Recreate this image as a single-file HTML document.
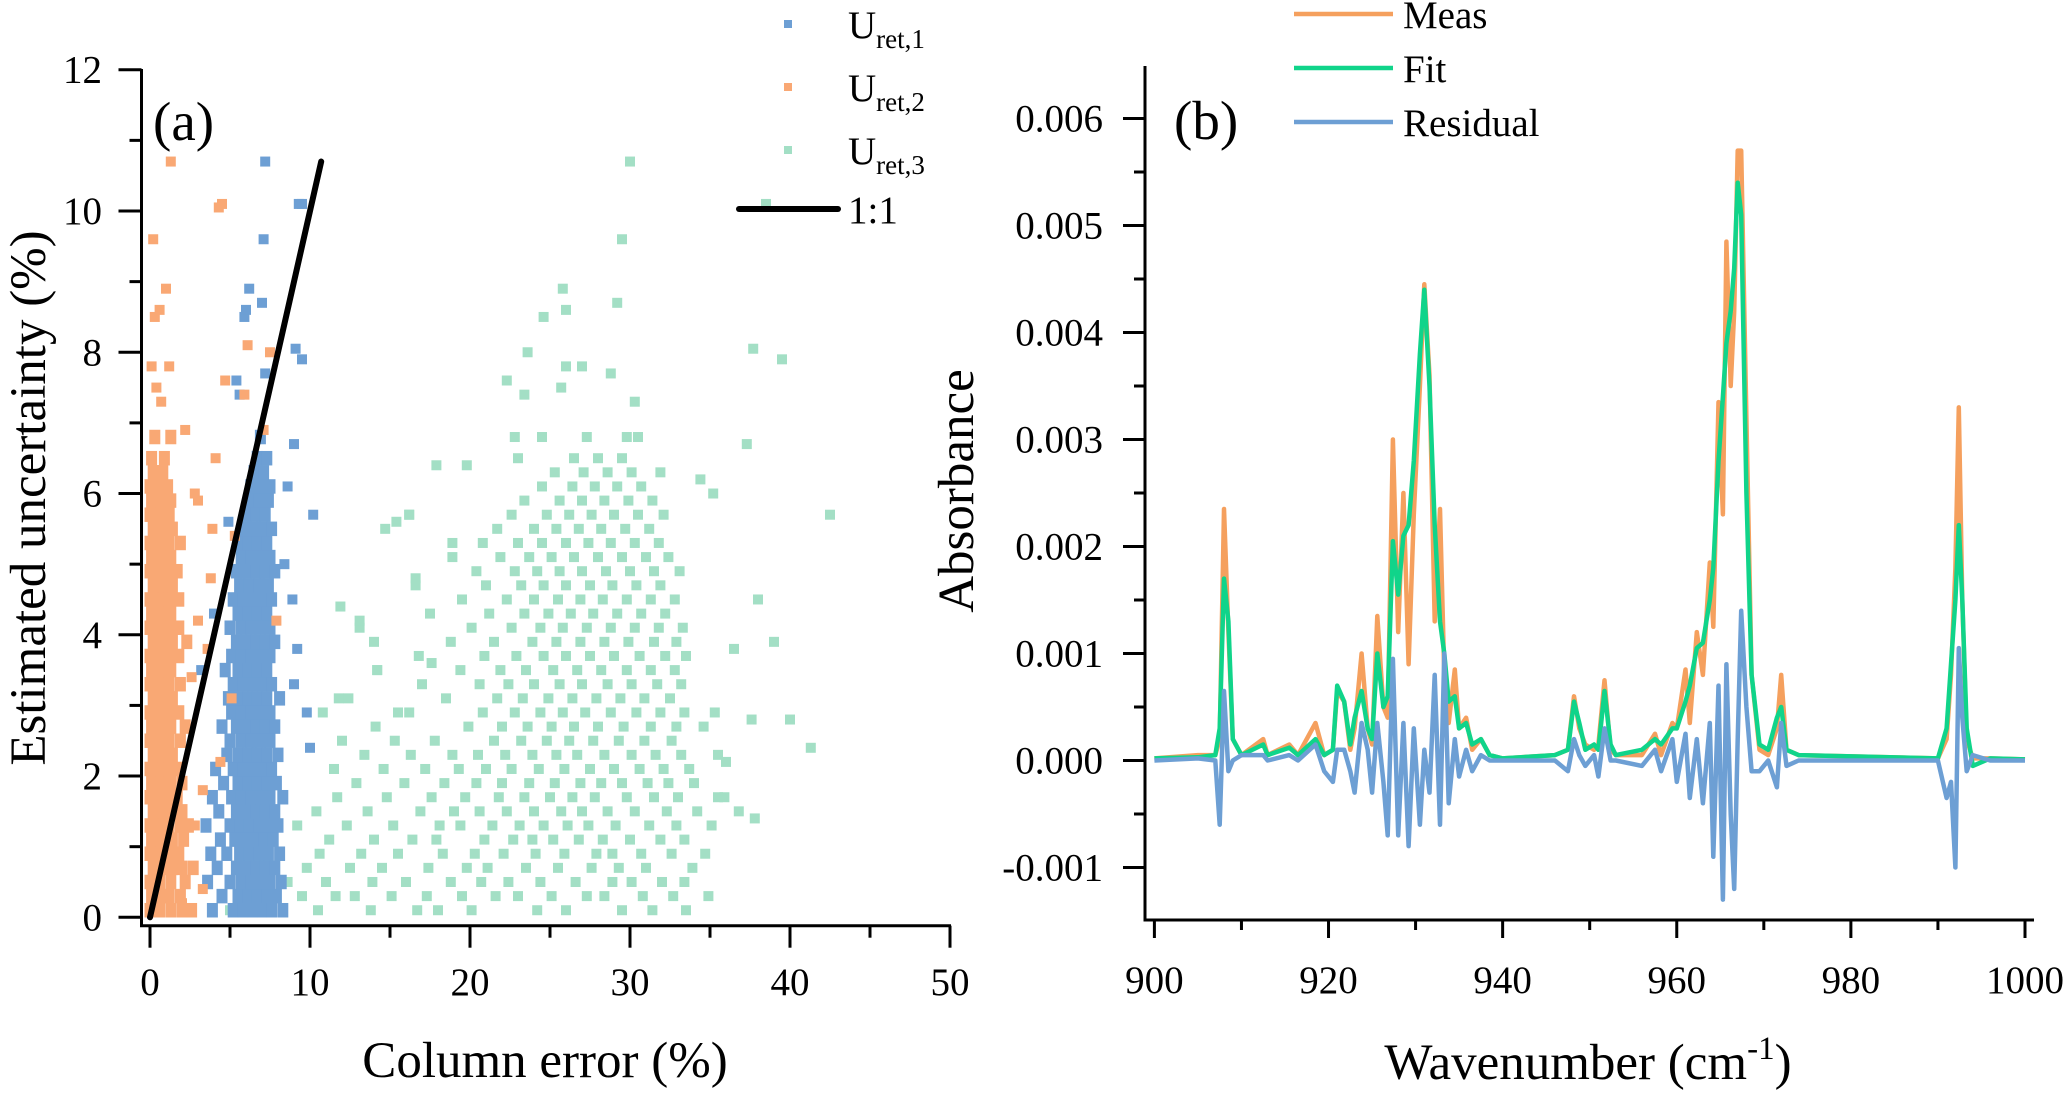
<!DOCTYPE html>
<html><head><meta charset="utf-8"><style>
html,body{margin:0;padding:0;background:#fff;}
svg{display:block;font-family:"Liberation Serif",serif;}
</style></head><body>
<svg id="fig" width="2067" height="1093" viewBox="0 0 2067 1093" xmlns="http://www.w3.org/2000/svg">
<g id="panelA"></g>
<g id="panelB"></g>
</svg>
<script>
// ---------- Panel (a) data ----------
const aXTicks = [0,10,20,30,40,50];
const aYTicks = [0,2,4,6,8,10,12];
// rows: [y, x1, x2, ...]
const uret2Rows = [
[0.1,0.0,0.6,1.3,2.0,2.6],[0.3,0.1,0.7,1.2,1.9],[0.5,0.0,0.6,1.3,2.2],[0.7,0.2,0.8,1.4,2.0,2.7],
[0.9,0.0,0.6,1.2,1.8],[1.1,0.1,0.7,1.4,2.1],[1.3,0.0,0.6,1.2,1.9,2.4],[1.5,0.2,0.8,1.4,2.0],
[1.7,0.0,0.6,1.2,1.7],[1.9,0.1,0.7,1.3,2.0],[2.1,0.0,0.6,1.2,1.8],[2.3,0.2,0.8,1.4],
[2.5,0.0,0.6,1.2,1.9],[2.7,0.1,0.7,1.3,2.2],[2.9,0.0,0.6,1.2,1.8],[3.1,0.2,0.8,1.4],
[3.3,0.0,0.6,1.2,1.9],[3.5,0.1,0.7,1.3],[3.7,0.0,0.6,1.2,1.8],[3.9,0.2,0.8,1.4,2.3],
[4.1,0.0,0.6,1.2,1.8],[4.3,0.1,0.7,1.3],[4.5,0.0,0.6,1.2,1.8],[4.7,0.2,0.8,1.4],
[4.9,0.0,0.6,1.2,1.7],[5.1,0.1,0.7,1.3],[5.3,0.0,0.6,1.2,1.9],[5.5,0.2,0.8,1.4],
[5.7,0.0,0.6,1.2],[5.9,0.1,0.7,1.3],[6.1,0.0,0.6,1.1],[6.3,0.2,0.8],[6.5,0.1,0.9],[6.8,0.3,1.3]
];
const uret2Outliers = [[1.3,10.7],[4.3,10.05],[4.5,10.1],[0.2,9.6],[1.0,8.9],[0.6,8.6],[0.3,8.5],[0.1,7.8],[1.2,7.8],[0.4,7.5],[0.7,7.3],[2.2,6.9],[2.8,6.0],[3.0,5.9],[3.9,5.5],[4.1,6.5],[4.7,7.6],[6.1,8.1],[7.5,8.0],[5.9,7.4],[7.1,6.9],[5.3,5.4],[3.8,4.8],[3.6,3.8],[7.9,4.2],[5.1,3.1],[4.4,2.2],[3.3,1.8],[2.8,1.3],[3.3,0.4],[2.0,0.2],[3.0,4.2],[2.6,3.4]];
const uret1Rows = [
[0.1,3.9,5.2,5.8,6.4,7.0,7.6,8.3],[0.3,4.5,5.5,6.1,6.7,7.3,7.9],[0.5,3.6,5.0,5.7,6.3,6.9,7.5,8.2],
[0.7,4.2,5.4,6.0,6.6,7.2,7.8],[0.9,3.8,4.8,5.6,6.2,6.8,7.4,8.1],[1.1,4.4,5.3,5.9,6.5,7.1,7.7],
[1.3,3.5,5.0,5.6,6.2,6.8,7.4,8.0],[1.5,4.3,5.4,6.0,6.6,7.2,7.8],[1.7,3.9,5.1,5.7,6.3,6.9,7.5,8.3],
[1.9,4.6,5.5,6.1,6.7,7.3,7.9],[2.1,4.1,5.2,5.8,6.4,7.0,7.6],[2.3,4.8,5.5,6.1,6.7,7.3,8.0],
[2.5,5.0,5.7,6.3,6.9,7.5],[2.7,4.5,5.4,6.0,6.6,7.2,7.8],[2.9,5.1,5.7,6.3,6.9,7.5],
[3.1,4.9,5.5,6.1,6.7,7.3,8.1],[3.3,5.2,5.8,6.4,7.0,7.6],[3.5,4.7,5.5,6.1,6.7,7.3],
[3.7,5.1,5.7,6.3,6.9,7.5],[3.9,5.4,6.0,6.6,7.2,7.8],[4.1,5.0,5.7,6.3,6.9,7.5],
[4.3,5.5,6.1,6.7,7.3],[4.5,5.2,5.8,6.4,7.0,7.6],[4.7,5.6,6.2,6.8,7.4],
[4.9,5.4,6.0,6.6,7.2,7.8],[5.1,5.7,6.3,6.9,7.5],[5.3,5.5,6.1,6.7,7.3],
[5.5,5.8,6.4,7.0,7.6],[5.7,6.0,6.6,7.2],[5.9,6.2,6.8,7.4],[6.1,6.3,6.9,7.5],
[6.3,6.5,7.1],[6.5,6.7,7.3],[6.8,6.9]
];
const uret1Outliers = [[7.2,10.7],[9.3,10.1],[9.5,10.1],[7.1,9.6],[6.2,8.9],[5.9,8.5],[6.0,8.6],[7.0,8.7],[9.1,8.05],[9.5,7.9],[7.2,7.7],[5.4,7.6],[5.6,7.4],[9.0,6.7],[10.2,5.7],[4.9,5.6],[8.9,4.5],[9.2,3.8],[9.0,3.3],[9.8,2.9],[10.0,2.4],[4.0,4.3],[3.2,3.5],[8.6,6.1],[8.4,5.0]];
const uret3Rows = [
[0.1,5.0,10.5,13.8,16.7,18.0,20.1,24.2,26.0,29.5,31.4,33.5],
[0.3,7.2,9.5,11.6,12.8,15.1,17.3,19.5,21.6,23.0,25.1,27.3,28.4,30.8,32.7,34.9],
[0.5,8.6,11.0,13.9,16.0,18.8,20.7,22.4,24.4,26.6,28.9,30.1,32.0,33.4],
[0.7,9.8,12.5,14.5,17.4,19.8,21.1,23.5,25.5,27.6,29.3,31.0,33.9],
[0.9,10.6,13.2,15.5,18.3,20.3,22.1,24.1,25.9,27.9,28.9,30.7,32.6,34.7],
[1.1,11.2,14.0,16.4,17.9,20.9,22.7,23.9,25.2,26.8,28.3,30.0,31.9,33.4],
[1.3,9.2,12.3,15.2,18.1,19.4,21.4,23.1,24.6,26.1,27.4,29.1,31.2,32.9,35.1],
[1.5,10.4,13.6,16.9,19.0,20.6,22.3,24.0,25.7,27.0,28.6,30.3,32.3,34.2],
[1.7,11.7,14.8,17.6,19.7,21.8,23.4,25.0,26.4,27.8,29.8,31.5,33.0,35.9],
[1.9,12.9,15.9,18.4,20.4,22.0,23.7,25.3,26.9,28.2,29.5,31.1,32.4,34.0],
[2.1,11.5,14.6,17.2,19.3,21.0,22.6,24.3,25.9,27.5,29.0,30.6,32.1,33.7],
[2.3,13.4,16.3,18.9,20.5,22.2,23.9,25.4,26.7,28.4,30.1,31.6,33.2,35.5],
[2.5,12.0,15.3,17.8,21.5,23.2,24.8,26.2,27.7,29.3,30.9,32.6],
[2.7,14.1,19.9,22.0,23.6,25.1,26.5,28.0,29.6,31.3,32.9,34.6],
[2.9,10.8,16.2,20.8,22.8,24.4,25.8,27.2,28.8,30.4,31.9,33.4,35.3],
[3.1,12.4,18.5,21.7,23.3,24.9,26.4,27.9,29.4,30.9,32.5],
[3.3,17.0,20.6,22.4,24.0,25.6,27.0,28.6,30.1,31.7,33.2],
[3.5,14.2,19.4,21.9,23.5,25.2,26.7,28.2,29.8,31.3,32.8],
[3.7,16.8,20.9,22.9,24.6,26.0,27.5,29.0,30.6,32.2,33.5],
[3.9,14.0,18.8,21.5,23.9,25.4,26.9,28.4,29.9,31.5,32.9],
[4.1,13.1,20.1,22.6,24.4,25.8,27.3,28.8,30.3,31.8,33.3],
[4.3,17.5,21.2,23.4,24.9,26.3,27.7,29.2,30.7,32.2],
[4.5,19.5,22.3,24.0,25.5,26.9,28.3,29.8,31.3,32.8],
[4.7,16.6,21.0,23.2,24.6,26.0,27.5,28.9,30.4,31.9],
[4.9,20.4,22.8,24.2,25.6,27.0,28.5,30.0,31.5,33.1],
[5.1,18.9,21.9,23.7,25.1,26.5,28.0,29.5,31.0,32.4],
[5.3,20.8,23.0,24.5,26.0,27.4,28.8,30.3,31.8],
[5.5,14.7,21.7,24.0,25.4,26.8,28.2,29.7,31.2],
[5.7,16.2,22.6,24.8,26.2,27.6,29.0,30.5,32.1],
[5.9,23.4,25.6,27.0,28.4,29.9,31.4],
[6.1,24.5,26.4,27.8,29.2,30.7],
[6.3,25.3,27.1,28.6,30.1,31.9],
[6.5,23.0,26.5,28.0,29.5],
[6.8,22.8,24.5,27.3,29.8,30.5]
];
const uret3Outliers = [[30,10.7],[38.5,10.1],[29.5,9.6],[25.8,8.9],[29.2,8.7],[24.6,8.5],[26,8.6],[23.6,8.0],[37.7,8.05],[39.5,7.9],[26,7.8],[27,7.8],[28.8,7.7],[22.3,7.6],[25.7,7.5],[23.4,7.4],[30.3,7.3],[42.5,5.7],[37.3,6.7],[34.4,6.2],[35.2,6.0],[19.8,6.4],[17.9,6.4],[15.4,5.6],[16.2,5.7],[18.9,5.3],[16.6,4.8],[11.9,4.4],[38,4.5],[36.5,3.8],[39,3.9],[40,2.8],[41.3,2.4],[37.6,2.8],[13.1,4.2],[14.2,3.5],[11.8,3.1],[15.5,2.9],[17.6,3.6],[36.0,2.2],[35.5,1.7],[37.8,1.4],[36.8,1.5]];
const oneToOne = [0, 10.7];

// ---------- Panel (b) data ----------
const bXTicks = [900,920,940,960,980,1000];
const bYTicks = [-0.001,0,0.001,0.002,0.003,0.004,0.005,0.006];
const bYTickLabels = ["-0.001","0.000","0.001","0.002","0.003","0.004","0.005","0.006"];
const wavenumber = [900,905,907,907.5,908,908.5,909,910,912.5,913,915.5,916.5,918.5,919.5,920.5,921,921.8,922.5,923,923.8,924.5,925,925.6,926.3,926.8,927.4,928,928.6,929.2,929.8,930.5,931,931.6,932.2,932.8,933.3,933.8,934.5,935,935.8,936.5,937.5,938.5,940,946,947.5,948.2,948.8,949.5,950.5,951,951.7,952.4,953,956,957.5,958.2,959.5,960,961,961.5,962.3,963,963.8,964.2,964.8,965.3,965.7,966.2,966.6,967,967.4,968,968.6,969.5,970.5,971.5,972,972.6,974,990,991,991.5,992,992.4,992.8,993.3,994,996,1000];
const measured = [0.02,0.05,0.05,0.2,2.35,1.2,0.2,0.05,0.2,0.05,0.15,0.05,0.35,0.05,0.1,0.65,0.55,0.1,0.3,1.0,0.3,0.15,1.35,0.5,0.4,3.0,1.2,2.5,0.9,2.3,3.5,4.45,3.6,1.3,2.35,0.8,0.35,0.85,0.3,0.4,0.1,0.2,0.05,0.02,0.05,0.1,0.6,0.3,0.15,0.1,0.15,0.75,0.1,0.05,0.05,0.25,0.05,0.35,0.3,0.85,0.35,1.2,0.8,1.85,1.25,3.35,2.3,4.85,3.5,4.2,5.7,5.7,3.2,0.8,0.1,0.05,0.3,0.8,0.1,0.05,0.02,0.2,0.8,1.8,3.3,1.5,0.2,0.02,0.02,0.01];
const fitted = [0.02,0.03,0.05,0.3,1.7,1.3,0.2,0.05,0.15,0.05,0.12,0.05,0.2,0.05,0.1,0.7,0.55,0.15,0.4,0.65,0.3,0.2,1.0,0.5,0.6,2.05,1.55,2.1,2.2,2.8,3.8,4.4,3.5,2.2,1.3,1.0,0.55,0.6,0.3,0.35,0.15,0.2,0.05,0.02,0.05,0.1,0.55,0.35,0.1,0.15,0.1,0.65,0.15,0.05,0.1,0.2,0.15,0.3,0.3,0.55,0.7,1.05,1.1,1.5,1.8,2.8,3.4,3.9,4.2,4.6,5.4,5.1,2.5,0.8,0.15,0.1,0.4,0.5,0.1,0.05,0.02,0.3,0.9,1.5,2.2,1.5,0.3,-0.05,0.02,0.01];
const residual = [0,0.02,0,-0.6,0.65,-0.1,0,0.05,0.05,0,0.05,0,0.15,-0.1,-0.2,0.1,0.1,-0.1,-0.3,0.35,0.1,-0.3,0.35,-0.2,-0.7,0.95,-0.7,0.35,-0.8,0.3,-0.6,0.1,-0.3,0.8,-0.6,1.0,-0.4,0.2,-0.15,0.1,-0.1,0.05,0,0,0,-0.1,0.2,0.05,-0.05,0.05,-0.15,0.3,0,0,-0.05,0.1,-0.1,0.2,-0.2,0.25,-0.35,0.2,-0.4,0.35,-0.9,0.7,-1.3,0.9,-0.5,-1.2,0.2,1.4,0.5,-0.1,-0.1,0,-0.25,0.35,-0.05,0,0,-0.35,-0.2,-1.0,1.05,0.4,-0.1,0.05,0,0];

const NS = "http://www.w3.org/2000/svg";
function mk(parent, tag, attrs, text){
  const el = document.createElementNS(NS, tag);
  for (const k in attrs) el.setAttribute(k, attrs[k]);
  if (text !== undefined) el.textContent = text;
  parent.appendChild(el);
  return el;
}

// ---------- Panel (a) ----------
const A = document.getElementById('panelA');
const ax = v => 150 + 16 * v;
const ay = v => 917.3 - 70.63 * v;
function drawSquares(pts, color, name, w, h){
  const g = mk(A, 'g', {fill: color});
  
  
  pts.forEach(p => {
    const r = mk(g, 'rect', {x: ax(p[0]) - w / 2, y: ay(p[1]) - h / 2, width: w, height: h});
    
    
  });
}
function rowsToPts(rows){
  const pts = [];
  rows.forEach(r => { for (let i = 1; i < r.length; i++) pts.push([r[i], r[0]]); });
  return pts;
}
drawSquares(rowsToPts(uret3Rows), '#a3dfc5', 'uret3-series', 10, 10);
drawSquares(uret3Outliers, '#a3dfc5', 'uret3-outliers', 10, 10);
drawSquares(rowsToPts(uret1Rows), '#6d9fd4', 'uret1-series', 11, 14.5);
drawSquares(uret1Outliers, '#6d9fd4', 'uret1-outliers', 10, 10);
drawSquares(rowsToPts(uret2Rows), '#f9a874', 'uret2-series', 11, 14.5);
drawSquares(uret2Outliers, '#f9a874', 'uret2-outliers', 10, 10);
const l11 = mk(A, 'line', {x1: ax(oneToOne[0]), y1: ay(oneToOne[0]), x2: ax(oneToOne[1]), y2: ay(oneToOne[1]), stroke: '#000', 'stroke-width': 6, 'stroke-linecap': 'round'});



// axes a
const aAxes = mk(A, 'g', {stroke: '#000', 'stroke-width': 3, fill: 'none'});


mk(aAxes, 'line', {x1: 141.5, y1: 69, x2: 141.5, y2: 927});
mk(aAxes, 'line', {x1: 140, y1: 925.7, x2: 951, y2: 925.7});
for (let v = 0; v <= 12; v++){
  const len = v % 2 === 0 ? 23 : 12;
  mk(aAxes, 'line', {x1: 141.5 - len, y1: ay(v), x2: 141.5, y2: ay(v)});
}
for (let v = 0; v <= 50; v += 5){
  const len = v % 10 === 0 ? 22 : 12;
  mk(aAxes, 'line', {x1: ax(v), y1: 925.7, x2: ax(v), y2: 925.7 + len});
}
aYTicks.forEach(v => {
  const t = mk(A, 'text', {x: 102, y: ay(v) + 13, 'text-anchor': 'end', 'font-size': 39}, String(v));
  
  
});
aXTicks.forEach(v => {
  const t = mk(A, 'text', {x: ax(v), y: 995, 'text-anchor': 'middle', 'font-size': 39}, String(v));
  
  
});
let t;
t = mk(A, 'text', {x: 545, y: 1077, 'text-anchor': 'middle', 'font-size': 51}, 'Column error (%)');


t = mk(A, 'text', {x: 0, y: 0, 'text-anchor': 'middle', 'font-size': 51, transform: 'translate(45,498) rotate(-90)'}, 'Estimated uncertainty (%)');


t = mk(A, 'text', {x: 153, y: 140, 'font-size': 55}, '(a)');



// legend a
const legA = mk(A, 'g', {});


const legEntries = [['#6d9fd4','1',24],['#f9a874','2',87],['#a3dfc5','3',150]];
legEntries.forEach(e => {
  const g = mk(legA, 'g', {});
  
  
  mk(g, 'rect', {x: 784, y: e[2] - 4, width: 8, height: 8, fill: e[0]});
  const tx = mk(g, 'text', {x: 848, y: e[2] + 14, 'font-size': 39}, 'U');
  mk(tx, 'tspan', {'font-size': 27, dy: 10}, 'ret,' + e[1]);
});
const g11 = mk(legA, 'g', {});


mk(g11, 'line', {x1: 739, y1: 209, x2: 838, y2: 209, stroke: '#000', 'stroke-width': 6, 'stroke-linecap': 'round'});
mk(g11, 'text', {x: 848, y: 223, 'font-size': 39}, '1:1');

// ---------- Panel (b) ----------
const B = document.getElementById('panelB');
const bx = w => 1154.4 + 8.706 * (w - 900);
const by = v => 760.5 - 107 * v; // v in units of 1e-3
function drawLine(vals, color, name){
  let d = '';
  wavenumber.forEach((w, i) => { d += (i ? 'L' : 'M') + bx(w).toFixed(1) + ',' + by(vals[i]).toFixed(1); });
  const p = mk(B, 'path', {d: d, fill: 'none', stroke: color, 'stroke-width': 4.5, 'stroke-linejoin': 'round'});
  
  
}
drawLine(measured, '#f5a05e', 'meas-line');
drawLine(fitted, '#10d48a', 'fit-line');
drawLine(residual, '#6d9fd4', 'residual-line');

const bAxes = mk(B, 'g', {stroke: '#000', 'stroke-width': 3, fill: 'none'});


mk(bAxes, 'line', {x1: 1145, y1: 66, x2: 1145, y2: 921.5});
mk(bAxes, 'line', {x1: 1143.5, y1: 920, x2: 2034, y2: 920});
for (let k = -2; k <= 12; k++){
  const v = k * 0.5;
  const len = k % 2 === 0 ? 22 : 11;
  mk(bAxes, 'line', {x1: 1145 - len, y1: by(v), x2: 1145, y2: by(v)});
}
for (let w = 900; w <= 1000; w += 10){
  const len = w % 20 === 0 ? 18 : 10;
  mk(bAxes, 'line', {x1: bx(w), y1: 920, x2: bx(w), y2: 920 + len});
}
bYTicks.forEach((v, i) => {
  const tt = mk(B, 'text', {x: 1103, y: by(v * 1000) + 13, 'text-anchor': 'end', 'font-size': 39}, bYTickLabels[i]);
  
  
});
bXTicks.forEach(w => {
  const tt = mk(B, 'text', {x: bx(w), y: 993, 'text-anchor': 'middle', 'font-size': 39}, String(w));
  
  
});
t = mk(B, 'text', {x: 1588, y: 1079, 'text-anchor': 'middle', 'font-size': 51}, 'Wavenumber (cm');
mk(t, 'tspan', {'font-size': 33, dy: -20}, '-1');
mk(t, 'tspan', {dy: 20}, ')');


t = mk(B, 'text', {x: 0, y: 0, 'text-anchor': 'middle', 'font-size': 51, transform: 'translate(973,491) rotate(-90)'}, 'Absorbance');


t = mk(B, 'text', {x: 1174, y: 139, 'font-size': 55}, '(b)');



const legB = mk(B, 'g', {});


[['#f5a05e','Meas',14],['#10d48a','Fit',68],['#6d9fd4','Residual',122]].forEach(e => {
  const g = mk(legB, 'g', {});
  
  
  mk(g, 'line', {x1: 1294, y1: e[2], x2: 1393, y2: e[2], stroke: e[0], 'stroke-width': 4.5});
  mk(g, 'text', {x: 1403, y: e[2] + 14, 'font-size': 39}, e[1]);
});
</script>
</body></html>
